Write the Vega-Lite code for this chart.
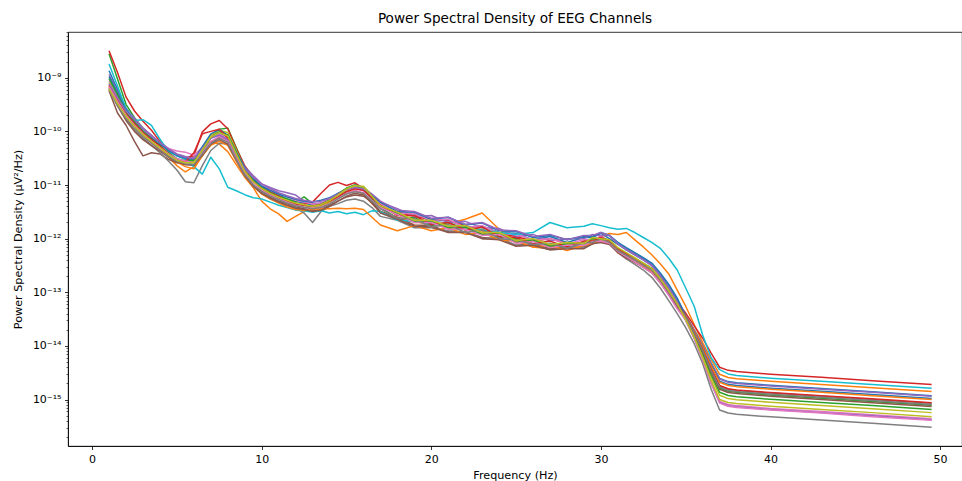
{
"$schema":"https://vega.github.io/schema/vega-lite/v6.json",
"width":894,"height":414,
"autosize":{"type":"none"},
"padding":{"left":68,"top":32,"right":0,"bottom":35},
"background":"white",
"title":{"text":"Power Spectral Density of EEG Channels","font":"DejaVu Sans","fontSize":13.6,"fontWeight":"normal","color":"#000000","anchor":"middle","offset":6},
"config":{"view":{"stroke":"#000000","strokeWidth":0.8},"axis":{"domainColor":"#000000","domainWidth":0.8,"tickColor":"#000000","tickWidth":0.8,"tickSize":3.5,"labelFont":"DejaVu Sans","labelFontSize":11,"labelColor":"#000000","labelPadding":3.5,"titleFont":"DejaVu Sans","titleFontSize":11.2,"titleFontWeight":"normal","titleColor":"#000000","grid":false}},
"data":{"values":[
{"c":1,"f":1,"p":1.35e-9},{"c":1,"f":1.5,"p":6.0e-10},{"c":1,"f":2,"p":2.7e-10},{"c":1,"f":2.5,"p":1.7e-10},{"c":1,"f":3,"p":1.1e-10},{"c":1,"f":3.5,"p":8.0e-11},{"c":1,"f":4,"p":6.0e-11},{"c":1,"f":4.5,"p":4.5e-11},{"c":1,"f":5,"p":3.5e-11},{"c":1,"f":5.5,"p":3.0e-11},{"c":1,"f":6,"p":2.9e-11},{"c":1,"f":6.5,"p":4.8e-11},{"c":1,"f":7,"p":8.0e-11},{"c":1,"f":7.5,"p":9.5e-11},{"c":1,"f":8,"p":7.5e-11},{"c":1,"f":8.5,"p":3.8e-11},{"c":1,"f":9,"p":2.0e-11},{"c":1,"f":9.5,"p":1.25e-11},{"c":1,"f":10,"p":9.5e-12},{"c":1,"f":10.5,"p":7.8e-12},{"c":1,"f":11,"p":6.5e-12},{"c":1,"f":11.5,"p":5.5e-12},{"c":1,"f":12,"p":5.0e-12},{"c":1,"f":12.5,"p":4.6e-12},{"c":1,"f":13,"p":4.2e-12},{"c":1,"f":13.5,"p":4.5e-12},{"c":1,"f":14,"p":5.3e-12},{"c":1,"f":14.5,"p":6.5e-12},{"c":1,"f":15,"p":8.5e-12},{"c":1,"f":15.5,"p":9.5e-12},{"c":1,"f":16,"p":8.8e-12},{"c":1,"f":16.5,"p":6.2e-12},{"c":1,"f":17,"p":4.6e-12},{"c":1,"f":18,"p":3.0e-12},{"c":1,"f":19,"p":2.9e-12},{"c":1,"f":20,"p":2.1e-12},{"c":1,"f":21,"p":2.2e-12},{"c":1,"f":22,"p":1.65e-12},{"c":1,"f":23,"p":1.7e-12},{"c":1,"f":24,"p":1.3e-12},{"c":1,"f":25,"p":1.25e-12},{"c":1,"f":26,"p":9.5e-13},{"c":1,"f":27,"p":1.1e-12},{"c":1,"f":28,"p":8.5e-13},{"c":1,"f":29,"p":1.05e-12},{"c":1,"f":29.5,"p":1.05e-12},{"c":1,"f":30,"p":1.25e-12},{"c":1,"f":30.5,"p":1.0e-12},{"c":1,"f":31,"p":7.8e-13},{"c":1,"f":31.5,"p":6.2e-13},{"c":1,"f":32,"p":5.0e-13},{"c":1,"f":32.5,"p":4.0e-13},{"c":1,"f":33,"p":3.2e-13},{"c":1,"f":33.5,"p":2.1e-13},{"c":1,"f":34,"p":1.3e-13},{"c":1,"f":34.5,"p":7.2e-14},{"c":1,"f":35,"p":3.7e-14},{"c":1,"f":35.5,"p":2.0e-14},{"c":1,"f":36,"p":1.04e-14},{"c":1,"f":36.5,"p":4.8e-15},{"c":1,"f":37,"p":2.48e-15},{"c":1,"f":37.5,"p":2.16e-15},{"c":1,"f":38,"p":2.05e-15},{"c":1,"f":40,"p":1.84e-15},{"c":1,"f":43,"p":1.6e-15},{"c":1,"f":46,"p":1.39e-15},{"c":1,"f":49.5,"p":1.18e-15},
{"c":2,"f":1,"p":7.4e-10},{"c":2,"f":1.5,"p":4.0e-10},{"c":2,"f":2,"p":2.0e-10},{"c":2,"f":2.5,"p":1.3e-10},{"c":2,"f":3,"p":9.0e-11},{"c":2,"f":3.5,"p":7.0e-11},{"c":2,"f":4,"p":5.0e-11},{"c":2,"f":4.5,"p":3.3e-11},{"c":2,"f":5,"p":2.3e-11},{"c":2,"f":5.5,"p":1.75e-11},{"c":2,"f":6,"p":2.2e-11},{"c":2,"f":6.5,"p":4.0e-11},{"c":2,"f":7,"p":6.5e-11},{"c":2,"f":7.5,"p":5.8e-11},{"c":2,"f":8,"p":4.2e-11},{"c":2,"f":8.5,"p":2.4e-11},{"c":2,"f":9,"p":1.4e-11},{"c":2,"f":9.5,"p":9.0e-12},{"c":2,"f":10,"p":5.0e-12},{"c":2,"f":10.5,"p":3.6e-12},{"c":2,"f":11,"p":2.9e-12},{"c":2,"f":11.5,"p":2.1e-12},{"c":2,"f":12,"p":2.6e-12},{"c":2,"f":12.5,"p":3.2e-12},{"c":2,"f":13,"p":3.5e-12},{"c":2,"f":13.5,"p":4.0e-12},{"c":2,"f":14,"p":5.2e-12},{"c":2,"f":14.5,"p":6.5e-12},{"c":2,"f":15,"p":7.2e-12},{"c":2,"f":15.5,"p":8.0e-12},{"c":2,"f":16,"p":6.8e-12},{"c":2,"f":16.5,"p":4.5e-12},{"c":2,"f":17,"p":3.2e-12},{"c":2,"f":18,"p":2.4e-12},{"c":2,"f":19,"p":2.1e-12},{"c":2,"f":20,"p":1.8e-12},{"c":2,"f":21,"p":1.9e-12},{"c":2,"f":22,"p":2.3e-12},{"c":2,"f":23,"p":3.0e-12},{"c":2,"f":24,"p":1.5e-12},{"c":2,"f":25,"p":9.0e-13},{"c":2,"f":26,"p":7.0e-13},{"c":2,"f":27,"p":6.5e-13},{"c":2,"f":28,"p":7.5e-13},{"c":2,"f":29,"p":8.5e-13},{"c":2,"f":29.5,"p":9.0e-13},{"c":2,"f":30,"p":1.1e-12},{"c":2,"f":30.5,"p":1.25e-12},{"c":2,"f":31,"p":1.2e-12},{"c":2,"f":31.5,"p":1.3e-12},{"c":2,"f":32,"p":9.5e-13},{"c":2,"f":32.5,"p":7.0e-13},{"c":2,"f":33,"p":5.0e-13},{"c":2,"f":33.5,"p":3.4e-13},{"c":2,"f":34,"p":2.2e-13},{"c":2,"f":34.5,"p":1.1e-13},{"c":2,"f":35,"p":5.5e-14},{"c":2,"f":35.5,"p":2.5e-14},{"c":2,"f":36,"p":1.15e-14},{"c":2,"f":36.5,"p":5.6e-15},{"c":2,"f":37,"p":2.96e-15},{"c":2,"f":37.5,"p":2.58e-15},{"c":2,"f":38,"p":2.45e-15},{"c":2,"f":40,"p":2.19e-15},{"c":2,"f":43,"p":1.91e-15},{"c":2,"f":46,"p":1.66e-15},{"c":2,"f":49.5,"p":1.41e-15},
{"c":3,"f":1,"p":2.8e-9},{"c":3,"f":1.5,"p":9.5e-10},{"c":3,"f":2,"p":3.2e-10},{"c":3,"f":2.5,"p":1.8e-10},{"c":3,"f":3,"p":1.15e-10},{"c":3,"f":3.5,"p":8.0e-11},{"c":3,"f":4,"p":5.5e-11},{"c":3,"f":4.5,"p":3.6e-11},{"c":3,"f":5,"p":2.8e-11},{"c":3,"f":5.5,"p":2.6e-11},{"c":3,"f":6,"p":2.7e-11},{"c":3,"f":6.5,"p":4.0e-11},{"c":3,"f":7,"p":8.0e-11},{"c":3,"f":7.5,"p":1.1e-10},{"c":3,"f":8,"p":1.15e-10},{"c":3,"f":8.5,"p":5.0e-11},{"c":3,"f":9,"p":2.2e-11},{"c":3,"f":9.5,"p":1.3e-11},{"c":3,"f":10,"p":8.8e-12},{"c":3,"f":10.5,"p":7.0e-12},{"c":3,"f":11,"p":6.2e-12},{"c":3,"f":11.5,"p":5.5e-12},{"c":3,"f":12,"p":4.8e-12},{"c":3,"f":12.5,"p":6.0e-12},{"c":3,"f":13,"p":4.5e-12},{"c":3,"f":13.5,"p":4.0e-12},{"c":3,"f":14,"p":4.6e-12},{"c":3,"f":14.5,"p":5.8e-12},{"c":3,"f":15,"p":7.5e-12},{"c":3,"f":15.5,"p":9.5e-12},{"c":3,"f":16,"p":9.0e-12},{"c":3,"f":16.5,"p":6.0e-12},{"c":3,"f":17,"p":3.8e-12},{"c":3,"f":18,"p":2.4e-12},{"c":3,"f":19,"p":2.5e-12},{"c":3,"f":20,"p":1.75e-12},{"c":3,"f":21,"p":2.0e-12},{"c":3,"f":22,"p":1.5e-12},{"c":3,"f":23,"p":1.5e-12},{"c":3,"f":24,"p":1.05e-12},{"c":3,"f":25,"p":1.0e-12},{"c":3,"f":26,"p":8.0e-13},{"c":3,"f":27,"p":8.0e-13},{"c":3,"f":28,"p":6.8e-13},{"c":3,"f":29,"p":8.5e-13},{"c":3,"f":29.5,"p":8.8e-13},{"c":3,"f":30,"p":1.05e-12},{"c":3,"f":30.5,"p":9.0e-13},{"c":3,"f":31,"p":6.5e-13},{"c":3,"f":31.5,"p":5.2e-13},{"c":3,"f":32,"p":4.3e-13},{"c":3,"f":32.5,"p":3.5e-13},{"c":3,"f":33,"p":2.8e-13},{"c":3,"f":33.5,"p":1.8e-13},{"c":3,"f":34,"p":1.1e-13},{"c":3,"f":34.5,"p":6.2e-14},{"c":3,"f":35,"p":3.4e-14},{"c":3,"f":35.5,"p":1.72e-14},{"c":3,"f":36,"p":8.1e-15},{"c":3,"f":36.5,"p":3.4e-15},{"c":3,"f":37,"p":1.64e-15},{"c":3,"f":37.5,"p":1.43e-15},{"c":3,"f":38,"p":1.36e-15},{"c":3,"f":40,"p":1.21e-15},{"c":3,"f":43,"p":1.06e-15},{"c":3,"f":46,"p":9.2e-16},{"c":3,"f":49.5,"p":7.8e-16},
{"c":4,"f":1,"p":3.2e-9},{"c":4,"f":1.5,"p":1.25e-9},{"c":4,"f":2,"p":4.4e-10},{"c":4,"f":2.5,"p":2.4e-10},{"c":4,"f":3,"p":1.55e-10},{"c":4,"f":3.5,"p":1.05e-10},{"c":4,"f":4,"p":6.5e-11},{"c":4,"f":4.5,"p":4.6e-11},{"c":4,"f":5,"p":3.6e-11},{"c":4,"f":5.5,"p":3.2e-11},{"c":4,"f":6,"p":3.5e-11},{"c":4,"f":6.5,"p":9.8e-11},{"c":4,"f":7,"p":1.38e-10},{"c":4,"f":7.5,"p":1.6e-10},{"c":4,"f":8,"p":1.12e-10},{"c":4,"f":8.5,"p":4.8e-11},{"c":4,"f":9,"p":2.3e-11},{"c":4,"f":9.5,"p":1.4e-11},{"c":4,"f":10,"p":9.5e-12},{"c":4,"f":10.5,"p":7.5e-12},{"c":4,"f":11,"p":6.3e-12},{"c":4,"f":11.5,"p":5.0e-12},{"c":4,"f":12,"p":4.5e-12},{"c":4,"f":12.5,"p":4.4e-12},{"c":4,"f":13,"p":4.8e-12},{"c":4,"f":13.5,"p":7.0e-12},{"c":4,"f":14,"p":1.0e-11},{"c":4,"f":14.5,"p":1.12e-11},{"c":4,"f":15,"p":9.8e-12},{"c":4,"f":15.5,"p":1.1e-11},{"c":4,"f":16,"p":8.6e-12},{"c":4,"f":16.5,"p":5.9e-12},{"c":4,"f":17,"p":4.0e-12},{"c":4,"f":18,"p":3.1e-12},{"c":4,"f":19,"p":2.6e-12},{"c":4,"f":20,"p":2.3e-12},{"c":4,"f":21,"p":2.2e-12},{"c":4,"f":22,"p":1.75e-12},{"c":4,"f":23,"p":1.4e-12},{"c":4,"f":24,"p":1.25e-12},{"c":4,"f":25,"p":1.1e-12},{"c":4,"f":26,"p":9.0e-13},{"c":4,"f":27,"p":1.0e-12},{"c":4,"f":28,"p":8.0e-13},{"c":4,"f":29,"p":8.5e-13},{"c":4,"f":29.5,"p":9.5e-13},{"c":4,"f":30,"p":1.1e-12},{"c":4,"f":30.5,"p":9.0e-13},{"c":4,"f":31,"p":6.5e-13},{"c":4,"f":31.5,"p":5.0e-13},{"c":4,"f":32,"p":4.2e-13},{"c":4,"f":32.5,"p":3.4e-13},{"c":4,"f":33,"p":2.7e-13},{"c":4,"f":33.5,"p":1.8e-13},{"c":4,"f":34,"p":1.1e-13},{"c":4,"f":34.5,"p":6.4e-14},{"c":4,"f":35,"p":4.1e-14},{"c":4,"f":35.5,"p":2.36e-14},{"c":4,"f":36,"p":1.39e-14},{"c":4,"f":36.5,"p":7.3e-15},{"c":4,"f":37,"p":4.0e-15},{"c":4,"f":37.5,"p":3.5e-15},{"c":4,"f":38,"p":3.32e-15},{"c":4,"f":40,"p":2.97e-15},{"c":4,"f":43,"p":2.59e-15},{"c":4,"f":46,"p":2.25e-15},{"c":4,"f":49.5,"p":1.91e-15},
{"c":5,"f":1,"p":1.15e-9},{"c":5,"f":1.5,"p":5.5e-10},{"c":5,"f":2,"p":2.6e-10},{"c":5,"f":2.5,"p":1.75e-10},{"c":5,"f":3,"p":1.15e-10},{"c":5,"f":3.5,"p":8.5e-11},{"c":5,"f":4,"p":6.2e-11},{"c":5,"f":4.5,"p":4.8e-11},{"c":5,"f":5,"p":3.8e-11},{"c":5,"f":5.5,"p":3.4e-11},{"c":5,"f":6,"p":3.2e-11},{"c":5,"f":6.5,"p":4.6e-11},{"c":5,"f":7,"p":7.5e-11},{"c":5,"f":7.5,"p":8.5e-11},{"c":5,"f":8,"p":7.0e-11},{"c":5,"f":8.5,"p":4.0e-11},{"c":5,"f":9,"p":2.2e-11},{"c":5,"f":9.5,"p":1.5e-11},{"c":5,"f":10,"p":1.05e-11},{"c":5,"f":10.5,"p":9.0e-12},{"c":5,"f":11,"p":7.8e-12},{"c":5,"f":11.5,"p":7.2e-12},{"c":5,"f":12,"p":6.5e-12},{"c":5,"f":12.5,"p":5.0e-12},{"c":5,"f":13,"p":4.5e-12},{"c":5,"f":13.5,"p":4.6e-12},{"c":5,"f":14,"p":5.5e-12},{"c":5,"f":14.5,"p":7.0e-12},{"c":5,"f":15,"p":8.0e-12},{"c":5,"f":15.5,"p":8.8e-12},{"c":5,"f":16,"p":8.2e-12},{"c":5,"f":16.5,"p":6.5e-12},{"c":5,"f":17,"p":4.8e-12},{"c":5,"f":18,"p":3.6e-12},{"c":5,"f":19,"p":2.6e-12},{"c":5,"f":20,"p":2.7e-12},{"c":5,"f":21,"p":2.0e-12},{"c":5,"f":22,"p":2.1e-12},{"c":5,"f":23,"p":1.6e-12},{"c":5,"f":24,"p":1.55e-12},{"c":5,"f":25,"p":1.1e-12},{"c":5,"f":26,"p":1.2e-12},{"c":5,"f":27,"p":9.0e-13},{"c":5,"f":28,"p":1.0e-12},{"c":5,"f":29,"p":1.0e-12},{"c":5,"f":29.5,"p":1.2e-12},{"c":5,"f":30,"p":1.15e-12},{"c":5,"f":30.5,"p":1.15e-12},{"c":5,"f":31,"p":8.0e-13},{"c":5,"f":31.5,"p":6.5e-13},{"c":5,"f":32,"p":5.2e-13},{"c":5,"f":32.5,"p":4.2e-13},{"c":5,"f":33,"p":3.3e-13},{"c":5,"f":33.5,"p":2.2e-13},{"c":5,"f":34,"p":1.35e-13},{"c":5,"f":34.5,"p":7.5e-14},{"c":5,"f":35,"p":3.7e-14},{"c":5,"f":35.5,"p":1.97e-14},{"c":5,"f":36,"p":1.02e-14},{"c":5,"f":36.5,"p":4.7e-15},{"c":5,"f":37,"p":2.42e-15},{"c":5,"f":37.5,"p":2.1e-15},{"c":5,"f":38,"p":2.0e-15},{"c":5,"f":40,"p":1.79e-15},{"c":5,"f":43,"p":1.56e-15},{"c":5,"f":46,"p":1.36e-15},{"c":5,"f":49.5,"p":1.15e-15},
{"c":6,"f":1,"p":5.7e-10},{"c":6,"f":1.5,"p":2.2e-10},{"c":6,"f":2,"p":1.3e-10},{"c":6,"f":2.5,"p":6.5e-11},{"c":6,"f":3,"p":3.5e-11},{"c":6,"f":3.5,"p":4.0e-11},{"c":6,"f":4,"p":3.8e-11},{"c":6,"f":4.5,"p":3.0e-11},{"c":6,"f":5,"p":2.6e-11},{"c":6,"f":5.5,"p":2.4e-11},{"c":6,"f":6,"p":2.3e-11},{"c":6,"f":6.5,"p":3.5e-11},{"c":6,"f":7,"p":6.0e-11},{"c":6,"f":7.5,"p":8.0e-11},{"c":6,"f":8,"p":6.8e-11},{"c":6,"f":8.5,"p":3.3e-11},{"c":6,"f":9,"p":1.6e-11},{"c":6,"f":9.5,"p":1.0e-11},{"c":6,"f":10,"p":7.5e-12},{"c":6,"f":10.5,"p":6.0e-12},{"c":6,"f":11,"p":5.0e-12},{"c":6,"f":11.5,"p":4.5e-12},{"c":6,"f":12,"p":3.9e-12},{"c":6,"f":12.5,"p":3.6e-12},{"c":6,"f":13,"p":3.3e-12},{"c":6,"f":13.5,"p":3.5e-12},{"c":6,"f":14,"p":4.2e-12},{"c":6,"f":14.5,"p":5.0e-12},{"c":6,"f":15,"p":6.0e-12},{"c":6,"f":15.5,"p":6.5e-12},{"c":6,"f":16,"p":6.2e-12},{"c":6,"f":16.5,"p":4.8e-12},{"c":6,"f":17,"p":3.2e-12},{"c":6,"f":18,"p":2.5e-12},{"c":6,"f":19,"p":1.8e-12},{"c":6,"f":20,"p":1.75e-12},{"c":6,"f":21,"p":1.35e-12},{"c":6,"f":22,"p":1.35e-12},{"c":6,"f":23,"p":1.05e-12},{"c":6,"f":24,"p":1.0e-12},{"c":6,"f":25,"p":7.5e-13},{"c":6,"f":26,"p":8.0e-13},{"c":6,"f":27,"p":6.5e-13},{"c":6,"f":28,"p":7.0e-13},{"c":6,"f":29,"p":7.0e-13},{"c":6,"f":29.5,"p":8.5e-13},{"c":6,"f":30,"p":9.5e-13},{"c":6,"f":30.5,"p":8.5e-13},{"c":6,"f":31,"p":6.0e-13},{"c":6,"f":31.5,"p":4.8e-13},{"c":6,"f":32,"p":3.9e-13},{"c":6,"f":32.5,"p":3.1e-13},{"c":6,"f":33,"p":2.5e-13},{"c":6,"f":33.5,"p":1.65e-13},{"c":6,"f":34,"p":1.0e-13},{"c":6,"f":34.5,"p":5.8e-14},{"c":6,"f":35,"p":3.5e-14},{"c":6,"f":35.5,"p":1.77e-14},{"c":6,"f":36,"p":8.5e-15},{"c":6,"f":36.5,"p":3.66e-15},{"c":6,"f":37,"p":1.79e-15},{"c":6,"f":37.5,"p":1.56e-15},{"c":6,"f":38,"p":1.48e-15},{"c":6,"f":40,"p":1.32e-15},{"c":6,"f":43,"p":1.15e-15},{"c":6,"f":46,"p":1.0e-15},{"c":6,"f":49.5,"p":8.5e-16},
{"c":7,"f":1,"p":8.8e-10},{"c":7,"f":1.5,"p":4.5e-10},{"c":7,"f":2,"p":2.4e-10},{"c":7,"f":2.5,"p":1.6e-10},{"c":7,"f":3,"p":1.1e-10},{"c":7,"f":3.5,"p":8.0e-11},{"c":7,"f":4,"p":6.0e-11},{"c":7,"f":4.5,"p":4.8e-11},{"c":7,"f":5,"p":4.3e-11},{"c":7,"f":5.5,"p":4.1e-11},{"c":7,"f":6,"p":3.6e-11},{"c":7,"f":6.5,"p":5.0e-11},{"c":7,"f":7,"p":8.0e-11},{"c":7,"f":7.5,"p":9.0e-11},{"c":7,"f":8,"p":7.5e-11},{"c":7,"f":8.5,"p":3.8e-11},{"c":7,"f":9,"p":2.0e-11},{"c":7,"f":9.5,"p":1.35e-11},{"c":7,"f":10,"p":9.8e-12},{"c":7,"f":10.5,"p":8.0e-12},{"c":7,"f":11,"p":6.8e-12},{"c":7,"f":11.5,"p":6.0e-12},{"c":7,"f":12,"p":5.2e-12},{"c":7,"f":12.5,"p":4.8e-12},{"c":7,"f":13,"p":4.4e-12},{"c":7,"f":13.5,"p":4.5e-12},{"c":7,"f":14,"p":5.5e-12},{"c":7,"f":14.5,"p":6.6e-12},{"c":7,"f":15,"p":8.0e-12},{"c":7,"f":15.5,"p":8.5e-12},{"c":7,"f":16,"p":7.8e-12},{"c":7,"f":16.5,"p":5.5e-12},{"c":7,"f":17,"p":4.5e-12},{"c":7,"f":18,"p":3.0e-12},{"c":7,"f":19,"p":2.9e-12},{"c":7,"f":20,"p":2.2e-12},{"c":7,"f":21,"p":2.3e-12},{"c":7,"f":22,"p":1.6e-12},{"c":7,"f":23,"p":1.75e-12},{"c":7,"f":24,"p":1.25e-12},{"c":7,"f":25,"p":1.2e-12},{"c":7,"f":26,"p":9.5e-13},{"c":7,"f":27,"p":1.0e-12},{"c":7,"f":28,"p":8.0e-13},{"c":7,"f":29,"p":9.5e-13},{"c":7,"f":29.5,"p":9.5e-13},{"c":7,"f":30,"p":1.1e-12},{"c":7,"f":30.5,"p":8.5e-13},{"c":7,"f":31,"p":5.5e-13},{"c":7,"f":31.5,"p":4.2e-13},{"c":7,"f":32,"p":3.9e-13},{"c":7,"f":32.5,"p":3.0e-13},{"c":7,"f":33,"p":2.4e-13},{"c":7,"f":33.5,"p":1.55e-13},{"c":7,"f":34,"p":9.0e-14},{"c":7,"f":34.5,"p":5.0e-14},{"c":7,"f":35,"p":3.1e-14},{"c":7,"f":35.5,"p":1.41e-14},{"c":7,"f":36,"p":5.7e-15},{"c":7,"f":36.5,"p":2.1e-15},{"c":7,"f":37,"p":9.2e-16},{"c":7,"f":37.5,"p":8.1e-16},{"c":7,"f":38,"p":7.7e-16},{"c":7,"f":40,"p":6.8e-16},{"c":7,"f":43,"p":6.0e-16},{"c":7,"f":46,"p":5.2e-16},{"c":7,"f":49.5,"p":4.4e-16},
{"c":8,"f":1,"p":6.5e-10},{"c":8,"f":1.5,"p":3.2e-10},{"c":8,"f":2,"p":1.7e-10},{"c":8,"f":2.5,"p":1.05e-10},{"c":8,"f":3,"p":7.5e-11},{"c":8,"f":3.5,"p":5.5e-11},{"c":8,"f":4,"p":4.0e-11},{"c":8,"f":4.5,"p":2.8e-11},{"c":8,"f":5,"p":1.9e-11},{"c":8,"f":5.5,"p":1.15e-11},{"c":8,"f":6,"p":1.1e-11},{"c":8,"f":6.5,"p":2.3e-11},{"c":8,"f":7,"p":4.4e-11},{"c":8,"f":7.5,"p":6.0e-11},{"c":8,"f":8,"p":5.8e-11},{"c":8,"f":8.5,"p":3.0e-11},{"c":8,"f":9,"p":1.5e-11},{"c":8,"f":9.5,"p":1.0e-11},{"c":8,"f":10,"p":7.0e-12},{"c":8,"f":10.5,"p":5.5e-12},{"c":8,"f":11,"p":4.8e-12},{"c":8,"f":11.5,"p":4.2e-12},{"c":8,"f":12,"p":3.8e-12},{"c":8,"f":12.5,"p":3.0e-12},{"c":8,"f":13,"p":2.0e-12},{"c":8,"f":13.5,"p":3.2e-12},{"c":8,"f":14,"p":4.0e-12},{"c":8,"f":14.5,"p":4.5e-12},{"c":8,"f":15,"p":5.2e-12},{"c":8,"f":15.5,"p":5.5e-12},{"c":8,"f":16,"p":5.0e-12},{"c":8,"f":16.5,"p":3.8e-12},{"c":8,"f":17,"p":2.6e-12},{"c":8,"f":18,"p":2.2e-12},{"c":8,"f":19,"p":1.6e-12},{"c":8,"f":20,"p":1.6e-12},{"c":8,"f":21,"p":1.4e-12},{"c":8,"f":22,"p":1.35e-12},{"c":8,"f":23,"p":1.0e-12},{"c":8,"f":24,"p":1.05e-12},{"c":8,"f":25,"p":7.5e-13},{"c":8,"f":26,"p":7.5e-13},{"c":8,"f":27,"p":6.2e-13},{"c":8,"f":28,"p":6.5e-13},{"c":8,"f":29,"p":6.8e-13},{"c":8,"f":29.5,"p":8.0e-13},{"c":8,"f":30,"p":9.0e-13},{"c":8,"f":30.5,"p":8.0e-13},{"c":8,"f":31,"p":5.5e-13},{"c":8,"f":31.5,"p":4.2e-13},{"c":8,"f":32,"p":3.3e-13},{"c":8,"f":32.5,"p":2.6e-13},{"c":8,"f":33,"p":1.9e-13},{"c":8,"f":33.5,"p":1.2e-13},{"c":8,"f":34,"p":7.0e-14},{"c":8,"f":34.5,"p":4.0e-14},{"c":8,"f":35,"p":2.2e-14},{"c":8,"f":35.5,"p":1.1e-14},{"c":8,"f":36,"p":4.7e-15},{"c":8,"f":36.5,"p":1.55e-15},{"c":8,"f":37,"p":6.4e-16},{"c":8,"f":37.5,"p":5.6e-16},{"c":8,"f":38,"p":5.3e-16},{"c":8,"f":40,"p":4.75e-16},{"c":8,"f":43,"p":4.14e-16},{"c":8,"f":46,"p":3.6e-16},{"c":8,"f":49.5,"p":3.05e-16},
{"c":9,"f":1,"p":8.1e-10},{"c":9,"f":1.5,"p":4.0e-10},{"c":9,"f":2,"p":2.2e-10},{"c":9,"f":2.5,"p":1.4e-10},{"c":9,"f":3,"p":9.5e-11},{"c":9,"f":3.5,"p":7.0e-11},{"c":9,"f":4,"p":5.2e-11},{"c":9,"f":4.5,"p":3.8e-11},{"c":9,"f":5,"p":3.0e-11},{"c":9,"f":5.5,"p":2.8e-11},{"c":9,"f":6,"p":2.7e-11},{"c":9,"f":6.5,"p":4.5e-11},{"c":9,"f":7,"p":8.5e-11},{"c":9,"f":7.5,"p":1.05e-10},{"c":9,"f":8,"p":9.5e-11},{"c":9,"f":8.5,"p":4.5e-11},{"c":9,"f":9,"p":2.0e-11},{"c":9,"f":9.5,"p":1.2e-11},{"c":9,"f":10,"p":8.5e-12},{"c":9,"f":10.5,"p":6.8e-12},{"c":9,"f":11,"p":5.6e-12},{"c":9,"f":11.5,"p":5.0e-12},{"c":9,"f":12,"p":4.4e-12},{"c":9,"f":12.5,"p":4.1e-12},{"c":9,"f":13,"p":3.8e-12},{"c":9,"f":13.5,"p":4.0e-12},{"c":9,"f":14,"p":4.8e-12},{"c":9,"f":14.5,"p":6.0e-12},{"c":9,"f":15,"p":8.0e-12},{"c":9,"f":15.5,"p":9.5e-12},{"c":9,"f":16,"p":9.5e-12},{"c":9,"f":16.5,"p":6.5e-12},{"c":9,"f":17,"p":4.0e-12},{"c":9,"f":18,"p":2.8e-12},{"c":9,"f":19,"p":2.0e-12},{"c":9,"f":20,"p":2.0e-12},{"c":9,"f":21,"p":1.6e-12},{"c":9,"f":22,"p":1.55e-12},{"c":9,"f":23,"p":1.2e-12},{"c":9,"f":24,"p":1.2e-12},{"c":9,"f":25,"p":8.5e-13},{"c":9,"f":26,"p":9.0e-13},{"c":9,"f":27,"p":7.0e-13},{"c":9,"f":28,"p":7.5e-13},{"c":9,"f":29,"p":7.5e-13},{"c":9,"f":29.5,"p":9.5e-13},{"c":9,"f":30,"p":9.5e-13},{"c":9,"f":30.5,"p":9.0e-13},{"c":9,"f":31,"p":6.2e-13},{"c":9,"f":31.5,"p":5.0e-13},{"c":9,"f":32,"p":4.0e-13},{"c":9,"f":32.5,"p":3.2e-13},{"c":9,"f":33,"p":2.6e-13},{"c":9,"f":33.5,"p":1.7e-13},{"c":9,"f":34,"p":1.02e-13},{"c":9,"f":34.5,"p":5.8e-14},{"c":9,"f":35,"p":3.2e-14},{"c":9,"f":35.5,"p":1.54e-14},{"c":9,"f":36,"p":6.7e-15},{"c":9,"f":36.5,"p":2.6e-15},{"c":9,"f":37,"p":1.2e-15},{"c":9,"f":37.5,"p":1.04e-15},{"c":9,"f":38,"p":9.9e-16},{"c":9,"f":40,"p":8.9e-16},{"c":9,"f":43,"p":7.7e-16},{"c":9,"f":46,"p":6.7e-16},{"c":9,"f":49.5,"p":5.7e-16},
{"c":10,"f":1,"p":1.8e-9},{"c":10,"f":1.5,"p":7.0e-10},{"c":10,"f":2,"p":2.6e-10},{"c":10,"f":2.5,"p":1.6e-10},{"c":10,"f":3,"p":1.65e-10},{"c":10,"f":3.5,"p":1.3e-10},{"c":10,"f":4,"p":7.2e-11},{"c":10,"f":4.5,"p":4.2e-11},{"c":10,"f":5,"p":3.5e-11},{"c":10,"f":5.5,"p":3.1e-11},{"c":10,"f":6,"p":2.2e-11},{"c":10,"f":6.5,"p":1.6e-11},{"c":10,"f":7,"p":3.3e-11},{"c":10,"f":7.5,"p":2.0e-11},{"c":10,"f":8,"p":9.1e-12},{"c":10,"f":8.5,"p":7.8e-12},{"c":10,"f":9,"p":6.6e-12},{"c":10,"f":9.5,"p":5.8e-12},{"c":10,"f":10,"p":5.5e-12},{"c":10,"f":10.5,"p":4.8e-12},{"c":10,"f":11,"p":4.2e-12},{"c":10,"f":11.5,"p":3.8e-12},{"c":10,"f":12,"p":3.4e-12},{"c":10,"f":12.5,"p":3.3e-12},{"c":10,"f":13,"p":3.1e-12},{"c":10,"f":13.5,"p":3.3e-12},{"c":10,"f":14,"p":3.0e-12},{"c":10,"f":14.5,"p":3.2e-12},{"c":10,"f":15,"p":2.9e-12},{"c":10,"f":15.5,"p":3.1e-12},{"c":10,"f":16,"p":2.8e-12},{"c":10,"f":16.5,"p":3.3e-12},{"c":10,"f":17,"p":3.2e-12},{"c":10,"f":18,"p":2.2e-12},{"c":10,"f":19,"p":2.1e-12},{"c":10,"f":20,"p":1.9e-12},{"c":10,"f":21,"p":1.7e-12},{"c":10,"f":22,"p":1.5e-12},{"c":10,"f":23,"p":1.45e-12},{"c":10,"f":24,"p":1.3e-12},{"c":10,"f":25,"p":1.2e-12},{"c":10,"f":26,"p":1.3e-12},{"c":10,"f":27,"p":2.0e-12},{"c":10,"f":28,"p":1.6e-12},{"c":10,"f":29,"p":1.7e-12},{"c":10,"f":29.5,"p":1.9e-12},{"c":10,"f":30,"p":1.75e-12},{"c":10,"f":30.5,"p":1.6e-12},{"c":10,"f":31,"p":1.5e-12},{"c":10,"f":31.5,"p":1.55e-12},{"c":10,"f":32,"p":1.3e-12},{"c":10,"f":32.5,"p":1.05e-12},{"c":10,"f":33,"p":8.5e-13},{"c":10,"f":33.5,"p":6.6e-13},{"c":10,"f":34,"p":4.3e-13},{"c":10,"f":34.5,"p":2.6e-13},{"c":10,"f":35,"p":1.2e-13},{"c":10,"f":35.5,"p":5.5e-14},{"c":10,"f":36,"p":1.6e-14},{"c":10,"f":36.5,"p":6.0e-15},{"c":10,"f":37,"p":3.6e-15},{"c":10,"f":37.5,"p":3.0e-15},{"c":10,"f":38,"p":2.8e-15},{"c":10,"f":40,"p":2.5e-15},{"c":10,"f":43,"p":2.2e-15},{"c":10,"f":46,"p":1.9e-15},{"c":10,"f":49.5,"p":1.62e-15},
{"c":11,"f":1,"p":1.05e-9},{"c":11,"f":1.5,"p":5.2e-10},{"c":11,"f":2,"p":2.5e-10},{"c":11,"f":2.5,"p":1.55e-10},{"c":11,"f":3,"p":1.0e-10},{"c":11,"f":3.5,"p":7.5e-11},{"c":11,"f":4,"p":5.8e-11},{"c":11,"f":4.5,"p":4.4e-11},{"c":11,"f":5,"p":3.6e-11},{"c":11,"f":5.5,"p":3.2e-11},{"c":11,"f":6,"p":3.0e-11},{"c":11,"f":6.5,"p":5.2e-11},{"c":11,"f":7,"p":9.0e-11},{"c":11,"f":7.5,"p":1.08e-10},{"c":11,"f":8,"p":8.5e-11},{"c":11,"f":8.5,"p":4.2e-11},{"c":11,"f":9,"p":2.1e-11},{"c":11,"f":9.5,"p":1.3e-11},{"c":11,"f":10,"p":9.5e-12},{"c":11,"f":10.5,"p":8.0e-12},{"c":11,"f":11,"p":6.8e-12},{"c":11,"f":11.5,"p":6.0e-12},{"c":11,"f":12,"p":5.4e-12},{"c":11,"f":12.5,"p":5.0e-12},{"c":11,"f":13,"p":4.8e-12},{"c":11,"f":13.5,"p":5.2e-12},{"c":11,"f":14,"p":5.8e-12},{"c":11,"f":14.5,"p":7.0e-12},{"c":11,"f":15,"p":8.5e-12},{"c":11,"f":15.5,"p":1.0e-11},{"c":11,"f":16,"p":9.0e-12},{"c":11,"f":16.5,"p":6.5e-12},{"c":11,"f":17,"p":4.8e-12},{"c":11,"f":18,"p":3.2e-12},{"c":11,"f":19,"p":3.1e-12},{"c":11,"f":20,"p":2.3e-12},{"c":11,"f":21,"p":2.5e-12},{"c":11,"f":22,"p":1.8e-12},{"c":11,"f":23,"p":1.95e-12},{"c":11,"f":24,"p":1.4e-12},{"c":11,"f":25,"p":1.35e-12},{"c":11,"f":26,"p":1.05e-12},{"c":11,"f":27,"p":1.15e-12},{"c":11,"f":28,"p":9.5e-13},{"c":11,"f":29,"p":1.1e-12},{"c":11,"f":29.5,"p":1.1e-12},{"c":11,"f":30,"p":1.3e-12},{"c":11,"f":30.5,"p":1.15e-12},{"c":11,"f":31,"p":8.5e-13},{"c":11,"f":31.5,"p":6.8e-13},{"c":11,"f":32,"p":5.5e-13},{"c":11,"f":32.5,"p":4.4e-13},{"c":11,"f":33,"p":3.5e-13},{"c":11,"f":33.5,"p":2.3e-13},{"c":11,"f":34,"p":1.4e-13},{"c":11,"f":34.5,"p":7.8e-14},{"c":11,"f":35,"p":3.6e-14},{"c":11,"f":35.5,"p":1.91e-14},{"c":11,"f":36,"p":9.7e-15},{"c":11,"f":36.5,"p":4.4e-15},{"c":11,"f":37,"p":2.2e-15},{"c":11,"f":37.5,"p":1.92e-15},{"c":11,"f":38,"p":1.83e-15},{"c":11,"f":40,"p":1.63e-15},{"c":11,"f":43,"p":1.42e-15},{"c":11,"f":46,"p":1.24e-15},{"c":11,"f":49.5,"p":1.05e-15},
{"c":12,"f":1,"p":6.8e-10},{"c":12,"f":1.5,"p":3.5e-10},{"c":12,"f":2,"p":1.9e-10},{"c":12,"f":2.5,"p":1.25e-10},{"c":12,"f":3,"p":8.5e-11},{"c":12,"f":3.5,"p":6.2e-11},{"c":12,"f":4,"p":4.6e-11},{"c":12,"f":4.5,"p":3.4e-11},{"c":12,"f":5,"p":2.7e-11},{"c":12,"f":5.5,"p":2.2e-11},{"c":12,"f":6,"p":2.0e-11},{"c":12,"f":6.5,"p":3.5e-11},{"c":12,"f":7,"p":5.5e-11},{"c":12,"f":7.5,"p":6.5e-11},{"c":12,"f":8,"p":5.5e-11},{"c":12,"f":8.5,"p":2.8e-11},{"c":12,"f":9,"p":1.5e-11},{"c":12,"f":9.5,"p":9.5e-12},{"c":12,"f":10,"p":6.8e-12},{"c":12,"f":10.5,"p":5.5e-12},{"c":12,"f":11,"p":4.6e-12},{"c":12,"f":11.5,"p":3.9e-12},{"c":12,"f":12,"p":3.5e-12},{"c":12,"f":12.5,"p":3.4e-12},{"c":12,"f":13,"p":3.5e-12},{"c":12,"f":13.5,"p":3.6e-12},{"c":12,"f":14,"p":3.6e-12},{"c":12,"f":14.5,"p":3.7e-12},{"c":12,"f":15,"p":3.6e-12},{"c":12,"f":15.5,"p":3.7e-12},{"c":12,"f":16,"p":3.5e-12},{"c":12,"f":16.5,"p":2.5e-12},{"c":12,"f":17,"p":1.8e-12},{"c":12,"f":18,"p":1.4e-12},{"c":12,"f":19,"p":1.75e-12},{"c":12,"f":20,"p":1.4e-12},{"c":12,"f":21,"p":1.6e-12},{"c":12,"f":22,"p":1.2e-12},{"c":12,"f":23,"p":1.3e-12},{"c":12,"f":24,"p":9.5e-13},{"c":12,"f":25,"p":9.0e-13},{"c":12,"f":26,"p":7.0e-13},{"c":12,"f":27,"p":7.5e-13},{"c":12,"f":28,"p":6.0e-13},{"c":12,"f":29,"p":7.5e-13},{"c":12,"f":29.5,"p":8.0e-13},{"c":12,"f":30,"p":9.0e-13},{"c":12,"f":30.5,"p":8.0e-13},{"c":12,"f":31,"p":5.5e-13},{"c":12,"f":31.5,"p":4.5e-13},{"c":12,"f":32,"p":3.7e-13},{"c":12,"f":32.5,"p":3.0e-13},{"c":12,"f":33,"p":2.4e-13},{"c":12,"f":33.5,"p":1.6e-13},{"c":12,"f":34,"p":9.5e-14},{"c":12,"f":34.5,"p":5.5e-14},{"c":12,"f":35,"p":3.6e-14},{"c":12,"f":35.5,"p":1.88e-14},{"c":12,"f":36,"p":9.4e-15},{"c":12,"f":36.5,"p":4.2e-15},{"c":12,"f":37,"p":2.1e-15},{"c":12,"f":37.5,"p":1.83e-15},{"c":12,"f":38,"p":1.74e-15},{"c":12,"f":40,"p":1.56e-15},{"c":12,"f":43,"p":1.36e-15},{"c":12,"f":46,"p":1.18e-15},{"c":12,"f":49.5,"p":1.0e-15},
{"c":13,"f":1,"p":9.6e-10},{"c":13,"f":1.5,"p":4.8e-10},{"c":13,"f":2,"p":2.3e-10},{"c":13,"f":2.5,"p":1.5e-10},{"c":13,"f":3,"p":1.0e-10},{"c":13,"f":3.5,"p":7.3e-11},{"c":13,"f":4,"p":5.4e-11},{"c":13,"f":4.5,"p":4.0e-11},{"c":13,"f":5,"p":3.1e-11},{"c":13,"f":5.5,"p":2.8e-11},{"c":13,"f":6,"p":2.9e-11},{"c":13,"f":6.5,"p":4.2e-11},{"c":13,"f":7,"p":7.6e-11},{"c":13,"f":7.5,"p":9.8e-11},{"c":13,"f":8,"p":8.5e-11},{"c":13,"f":8.5,"p":4.0e-11},{"c":13,"f":9,"p":1.9e-11},{"c":13,"f":9.5,"p":1.2e-11},{"c":13,"f":10,"p":8.8e-12},{"c":13,"f":10.5,"p":7.2e-12},{"c":13,"f":11,"p":6.0e-12},{"c":13,"f":11.5,"p":5.3e-12},{"c":13,"f":12,"p":4.6e-12},{"c":13,"f":12.5,"p":4.2e-12},{"c":13,"f":13,"p":4.0e-12},{"c":13,"f":13.5,"p":4.4e-12},{"c":13,"f":14,"p":5.2e-12},{"c":13,"f":14.5,"p":6.8e-12},{"c":13,"f":15,"p":8.8e-12},{"c":13,"f":15.5,"p":1.0e-11},{"c":13,"f":16,"p":8.5e-12},{"c":13,"f":16.5,"p":5.5e-12},{"c":13,"f":17,"p":3.9e-12},{"c":13,"f":18,"p":3.0e-12},{"c":13,"f":19,"p":2.1e-12},{"c":13,"f":20,"p":2.1e-12},{"c":13,"f":21,"p":1.6e-12},{"c":13,"f":22,"p":1.65e-12},{"c":13,"f":23,"p":1.2e-12},{"c":13,"f":24,"p":1.25e-12},{"c":13,"f":25,"p":8.5e-13},{"c":13,"f":26,"p":9.5e-13},{"c":13,"f":27,"p":7.2e-13},{"c":13,"f":28,"p":8.0e-13},{"c":13,"f":29,"p":8.0e-13},{"c":13,"f":29.5,"p":1.0e-12},{"c":13,"f":30,"p":1.0e-12},{"c":13,"f":30.5,"p":9.5e-13},{"c":13,"f":31,"p":6.5e-13},{"c":13,"f":31.5,"p":5.2e-13},{"c":13,"f":32,"p":4.2e-13},{"c":13,"f":32.5,"p":3.4e-13},{"c":13,"f":33,"p":2.7e-13},{"c":13,"f":33.5,"p":1.75e-13},{"c":13,"f":34,"p":1.05e-13},{"c":13,"f":34.5,"p":6.0e-14},{"c":13,"f":35,"p":3.3e-14},{"c":13,"f":35.5,"p":1.62e-14},{"c":13,"f":36,"p":7.3e-15},{"c":13,"f":36.5,"p":2.9e-15},{"c":13,"f":37,"p":1.37e-15},{"c":13,"f":37.5,"p":1.19e-15},{"c":13,"f":38,"p":1.13e-15},{"c":13,"f":40,"p":1.01e-15},{"c":13,"f":43,"p":8.8e-16},{"c":13,"f":46,"p":7.7e-16},{"c":13,"f":49.5,"p":6.5e-16},
{"c":14,"f":1,"p":7.1e-10},{"c":14,"f":1.5,"p":3.8e-10},{"c":14,"f":2,"p":2.1e-10},{"c":14,"f":2.5,"p":1.4e-10},{"c":14,"f":3,"p":9.5e-11},{"c":14,"f":3.5,"p":7.0e-11},{"c":14,"f":4,"p":5.3e-11},{"c":14,"f":4.5,"p":3.9e-11},{"c":14,"f":5,"p":3.0e-11},{"c":14,"f":5.5,"p":2.7e-11},{"c":14,"f":6,"p":4.0e-11},{"c":14,"f":6.5,"p":9.0e-11},{"c":14,"f":7,"p":1.0e-10},{"c":14,"f":7.5,"p":1.1e-10},{"c":14,"f":8,"p":7.5e-11},{"c":14,"f":8.5,"p":3.5e-11},{"c":14,"f":9,"p":1.8e-11},{"c":14,"f":9.5,"p":1.15e-11},{"c":14,"f":10,"p":8.5e-12},{"c":14,"f":10.5,"p":6.8e-12},{"c":14,"f":11,"p":5.8e-12},{"c":14,"f":11.5,"p":5.0e-12},{"c":14,"f":12,"p":4.4e-12},{"c":14,"f":12.5,"p":4.2e-12},{"c":14,"f":13,"p":4.0e-12},{"c":14,"f":13.5,"p":4.3e-12},{"c":14,"f":14,"p":5.0e-12},{"c":14,"f":14.5,"p":6.0e-12},{"c":14,"f":15,"p":7.5e-12},{"c":14,"f":15.5,"p":8.5e-12},{"c":14,"f":16,"p":8.0e-12},{"c":14,"f":16.5,"p":5.8e-12},{"c":14,"f":17,"p":4.2e-12},{"c":14,"f":18,"p":2.7e-12},{"c":14,"f":19,"p":2.7e-12},{"c":14,"f":20,"p":1.85e-12},{"c":14,"f":21,"p":2.0e-12},{"c":14,"f":22,"p":1.45e-12},{"c":14,"f":23,"p":1.65e-12},{"c":14,"f":24,"p":1.1e-12},{"c":14,"f":25,"p":1.05e-12},{"c":14,"f":26,"p":8.0e-13},{"c":14,"f":27,"p":9.0e-13},{"c":14,"f":28,"p":7.0e-13},{"c":14,"f":29,"p":9.0e-13},{"c":14,"f":29.5,"p":9.0e-13},{"c":14,"f":30,"p":1.05e-12},{"c":14,"f":30.5,"p":9.0e-13},{"c":14,"f":31,"p":6.5e-13},{"c":14,"f":31.5,"p":5.2e-13},{"c":14,"f":32,"p":4.3e-13},{"c":14,"f":32.5,"p":3.4e-13},{"c":14,"f":33,"p":2.7e-13},{"c":14,"f":33.5,"p":1.8e-13},{"c":14,"f":34,"p":1.1e-13},{"c":14,"f":34.5,"p":6.2e-14},{"c":14,"f":35,"p":3.5e-14},{"c":14,"f":35.5,"p":1.79e-14},{"c":14,"f":36,"p":8.6e-15},{"c":14,"f":36.5,"p":3.7e-15},{"c":14,"f":37,"p":1.83e-15},{"c":14,"f":37.5,"p":1.59e-15},{"c":14,"f":38,"p":1.51e-15},{"c":14,"f":40,"p":1.35e-15},{"c":14,"f":43,"p":1.18e-15},{"c":14,"f":46,"p":1.03e-15},{"c":14,"f":49.5,"p":8.7e-16},
{"c":15,"f":1,"p":7.7e-10},{"c":15,"f":1.5,"p":4.2e-10},{"c":15,"f":2,"p":2.4e-10},{"c":15,"f":2.5,"p":1.65e-10},{"c":15,"f":3,"p":1.12e-10},{"c":15,"f":3.5,"p":8.2e-11},{"c":15,"f":4,"p":6.2e-11},{"c":15,"f":4.5,"p":4.7e-11},{"c":15,"f":5,"p":3.7e-11},{"c":15,"f":5.5,"p":3.3e-11},{"c":15,"f":6,"p":3.1e-11},{"c":15,"f":6.5,"p":4.8e-11},{"c":15,"f":7,"p":7.4e-11},{"c":15,"f":7.5,"p":8.6e-11},{"c":15,"f":8,"p":7.0e-11},{"c":15,"f":8.5,"p":3.6e-11},{"c":15,"f":9,"p":2.0e-11},{"c":15,"f":9.5,"p":1.4e-11},{"c":15,"f":10,"p":1.05e-11},{"c":15,"f":10.5,"p":8.5e-12},{"c":15,"f":11,"p":7.2e-12},{"c":15,"f":11.5,"p":6.3e-12},{"c":15,"f":12,"p":5.6e-12},{"c":15,"f":12.5,"p":5.2e-12},{"c":15,"f":13,"p":4.9e-12},{"c":15,"f":13.5,"p":5.0e-12},{"c":15,"f":14,"p":5.6e-12},{"c":15,"f":14.5,"p":6.8e-12},{"c":15,"f":15,"p":8.2e-12},{"c":15,"f":15.5,"p":9.0e-12},{"c":15,"f":16,"p":8.5e-12},{"c":15,"f":16.5,"p":6.8e-12},{"c":15,"f":17,"p":5.0e-12},{"c":15,"f":18,"p":3.4e-12},{"c":15,"f":19,"p":3.2e-12},{"c":15,"f":20,"p":2.4e-12},{"c":15,"f":21,"p":2.5e-12},{"c":15,"f":22,"p":1.85e-12},{"c":15,"f":23,"p":2.0e-12},{"c":15,"f":24,"p":1.45e-12},{"c":15,"f":25,"p":1.4e-12},{"c":15,"f":26,"p":1.1e-12},{"c":15,"f":27,"p":1.2e-12},{"c":15,"f":28,"p":9.5e-13},{"c":15,"f":29,"p":1.15e-12},{"c":15,"f":29.5,"p":1.15e-12},{"c":15,"f":30,"p":1.3e-12},{"c":15,"f":30.5,"p":1.15e-12},{"c":15,"f":31,"p":8.0e-13},{"c":15,"f":31.5,"p":6.2e-13},{"c":15,"f":32,"p":5.0e-13},{"c":15,"f":32.5,"p":4.0e-13},{"c":15,"f":33,"p":3.1e-13},{"c":15,"f":33.5,"p":2.0e-13},{"c":15,"f":34,"p":1.2e-13},{"c":15,"f":34.5,"p":6.5e-14},{"c":15,"f":35,"p":3.0e-14},{"c":15,"f":35.5,"p":1.39e-14},{"c":15,"f":36,"p":5.6e-15},{"c":15,"f":36.5,"p":2.0e-15},{"c":15,"f":37,"p":8.8e-16},{"c":15,"f":37.5,"p":7.7e-16},{"c":15,"f":38,"p":7.3e-16},{"c":15,"f":40,"p":6.5e-16},{"c":15,"f":43,"p":5.7e-16},{"c":15,"f":46,"p":5.0e-16},{"c":15,"f":49.5,"p":4.2e-16},
{"c":16,"f":1,"p":6.2e-10},{"c":16,"f":1.5,"p":3.0e-10},{"c":16,"f":2,"p":1.6e-10},{"c":16,"f":2.5,"p":1.0e-10},{"c":16,"f":3,"p":7.0e-11},{"c":16,"f":3.5,"p":5.4e-11},{"c":16,"f":4,"p":4.3e-11},{"c":16,"f":4.5,"p":3.3e-11},{"c":16,"f":5,"p":2.7e-11},{"c":16,"f":5.5,"p":2.4e-11},{"c":16,"f":6,"p":2.4e-11},{"c":16,"f":6.5,"p":3.6e-11},{"c":16,"f":7,"p":5.8e-11},{"c":16,"f":7.5,"p":7.0e-11},{"c":16,"f":8,"p":5.8e-11},{"c":16,"f":8.5,"p":2.9e-11},{"c":16,"f":9,"p":1.5e-11},{"c":16,"f":9.5,"p":9.5e-12},{"c":16,"f":10,"p":7.0e-12},{"c":16,"f":10.5,"p":5.7e-12},{"c":16,"f":11,"p":4.8e-12},{"c":16,"f":11.5,"p":4.2e-12},{"c":16,"f":12,"p":3.7e-12},{"c":16,"f":12.5,"p":3.5e-12},{"c":16,"f":13,"p":3.2e-12},{"c":16,"f":13.5,"p":3.4e-12},{"c":16,"f":14,"p":4.0e-12},{"c":16,"f":14.5,"p":5.0e-12},{"c":16,"f":15,"p":6.2e-12},{"c":16,"f":15.5,"p":7.0e-12},{"c":16,"f":16,"p":6.5e-12},{"c":16,"f":16.5,"p":4.6e-12},{"c":16,"f":17,"p":3.0e-12},{"c":16,"f":18,"p":2.3e-12},{"c":16,"f":19,"p":1.7e-12},{"c":16,"f":20,"p":1.65e-12},{"c":16,"f":21,"p":1.3e-12},{"c":16,"f":22,"p":1.3e-12},{"c":16,"f":23,"p":1.0e-12},{"c":16,"f":24,"p":9.5e-13},{"c":16,"f":25,"p":7.2e-13},{"c":16,"f":26,"p":7.5e-13},{"c":16,"f":27,"p":6.2e-13},{"c":16,"f":28,"p":6.5e-13},{"c":16,"f":29,"p":6.5e-13},{"c":16,"f":29.5,"p":8.0e-13},{"c":16,"f":30,"p":8.5e-13},{"c":16,"f":30.5,"p":7.8e-13},{"c":16,"f":31,"p":5.5e-13},{"c":16,"f":31.5,"p":4.4e-13},{"c":16,"f":32,"p":3.6e-13},{"c":16,"f":32.5,"p":2.9e-13},{"c":16,"f":33,"p":2.3e-13},{"c":16,"f":33.5,"p":1.5e-13},{"c":16,"f":34,"p":9.2e-14},{"c":16,"f":34.5,"p":5.3e-14},{"c":16,"f":35,"p":3.4e-14},{"c":16,"f":35.5,"p":1.69e-14},{"c":16,"f":36,"p":7.8e-15},{"c":16,"f":36.5,"p":3.26e-15},{"c":16,"f":37,"p":1.55e-15},{"c":16,"f":37.5,"p":1.35e-15},{"c":16,"f":38,"p":1.29e-15},{"c":16,"f":40,"p":1.15e-15},{"c":16,"f":43,"p":1.0e-15},{"c":16,"f":46,"p":8.7e-16},{"c":16,"f":49.5,"p":7.4e-16},
{"c":17,"f":1,"p":6.8e-10},{"c":17,"f":1.5,"p":3.6e-10},{"c":17,"f":2,"p":2.0e-10},{"c":17,"f":2.5,"p":1.3e-10},{"c":17,"f":3,"p":9.0e-11},{"c":17,"f":3.5,"p":6.6e-11},{"c":17,"f":4,"p":5.0e-11},{"c":17,"f":4.5,"p":3.8e-11},{"c":17,"f":5,"p":3.1e-11},{"c":17,"f":5.5,"p":2.8e-11},{"c":17,"f":6,"p":2.6e-11},{"c":17,"f":6.5,"p":4.0e-11},{"c":17,"f":7,"p":6.5e-11},{"c":17,"f":7.5,"p":8.0e-11},{"c":17,"f":8,"p":6.5e-11},{"c":17,"f":8.5,"p":3.2e-11},{"c":17,"f":9,"p":1.7e-11},{"c":17,"f":9.5,"p":1.1e-11},{"c":17,"f":10,"p":8.0e-12},{"c":17,"f":10.5,"p":6.5e-12},{"c":17,"f":11,"p":5.5e-12},{"c":17,"f":11.5,"p":4.8e-12},{"c":17,"f":12,"p":4.2e-12},{"c":17,"f":12.5,"p":3.9e-12},{"c":17,"f":13,"p":3.7e-12},{"c":17,"f":13.5,"p":3.9e-12},{"c":17,"f":14,"p":4.5e-12},{"c":17,"f":14.5,"p":5.6e-12},{"c":17,"f":15,"p":7.0e-12},{"c":17,"f":15.5,"p":7.8e-12},{"c":17,"f":16,"p":7.2e-12},{"c":17,"f":16.5,"p":5.2e-12},{"c":17,"f":17,"p":3.8e-12},{"c":17,"f":18,"p":2.8e-12},{"c":17,"f":19,"p":2.0e-12},{"c":17,"f":20,"p":2.0e-12},{"c":17,"f":21,"p":1.5e-12},{"c":17,"f":22,"p":1.5e-12},{"c":17,"f":23,"p":1.15e-12},{"c":17,"f":24,"p":1.2e-12},{"c":17,"f":25,"p":8.2e-13},{"c":17,"f":26,"p":8.8e-13},{"c":17,"f":27,"p":6.8e-13},{"c":17,"f":28,"p":7.5e-13},{"c":17,"f":29,"p":7.5e-13},{"c":17,"f":29.5,"p":8.8e-13},{"c":17,"f":30,"p":9.0e-13},{"c":17,"f":30.5,"p":8.2e-13},{"c":17,"f":31,"p":5.8e-13},{"c":17,"f":31.5,"p":4.6e-13},{"c":17,"f":32,"p":3.7e-13},{"c":17,"f":32.5,"p":2.9e-13},{"c":17,"f":33,"p":2.3e-13},{"c":17,"f":33.5,"p":1.5e-13},{"c":17,"f":34,"p":8.8e-14},{"c":17,"f":34.5,"p":4.9e-14},{"c":17,"f":35,"p":3.0e-14},{"c":17,"f":35.5,"p":1.38e-14},{"c":17,"f":36,"p":5.5e-15},{"c":17,"f":36.5,"p":2.0e-15},{"c":17,"f":37,"p":8.6e-16},{"c":17,"f":37.5,"p":7.5e-16},{"c":17,"f":38,"p":7.1e-16},{"c":17,"f":40,"p":6.4e-16},{"c":17,"f":43,"p":5.6e-16},{"c":17,"f":46,"p":4.8e-16},{"c":17,"f":49.5,"p":4.1e-16},
{"c":18,"f":1,"p":6.0e-10},{"c":18,"f":1.5,"p":3.0e-10},{"c":18,"f":2,"p":1.75e-10},{"c":18,"f":2.5,"p":1.15e-10},{"c":18,"f":3,"p":8.0e-11},{"c":18,"f":3.5,"p":6.0e-11},{"c":18,"f":4,"p":4.5e-11},{"c":18,"f":4.5,"p":3.4e-11},{"c":18,"f":5,"p":2.8e-11},{"c":18,"f":5.5,"p":2.5e-11},{"c":18,"f":6,"p":2.4e-11},{"c":18,"f":6.5,"p":3.8e-11},{"c":18,"f":7,"p":6.0e-11},{"c":18,"f":7.5,"p":7.5e-11},{"c":18,"f":8,"p":6.2e-11},{"c":18,"f":8.5,"p":3.0e-11},{"c":18,"f":9,"p":1.55e-11},{"c":18,"f":9.5,"p":1.0e-11},{"c":18,"f":10,"p":7.6e-12},{"c":18,"f":10.5,"p":6.2e-12},{"c":18,"f":11,"p":5.3e-12},{"c":18,"f":11.5,"p":4.6e-12},{"c":18,"f":12,"p":4.1e-12},{"c":18,"f":12.5,"p":3.8e-12},{"c":18,"f":13,"p":3.6e-12},{"c":18,"f":13.5,"p":3.8e-12},{"c":18,"f":14,"p":4.4e-12},{"c":18,"f":14.5,"p":5.5e-12},{"c":18,"f":15,"p":6.8e-12},{"c":18,"f":15.5,"p":7.5e-12},{"c":18,"f":16,"p":7.0e-12},{"c":18,"f":16.5,"p":5.0e-12},{"c":18,"f":17,"p":3.6e-12},{"c":18,"f":18,"p":2.4e-12},{"c":18,"f":19,"p":2.35e-12},{"c":18,"f":20,"p":1.65e-12},{"c":18,"f":21,"p":1.85e-12},{"c":18,"f":22,"p":1.3e-12},{"c":18,"f":23,"p":1.45e-12},{"c":18,"f":24,"p":1.0e-12},{"c":18,"f":25,"p":9.5e-13},{"c":18,"f":26,"p":7.8e-13},{"c":18,"f":27,"p":8.2e-13},{"c":18,"f":28,"p":6.6e-13},{"c":18,"f":29,"p":8.5e-13},{"c":18,"f":29.5,"p":8.5e-13},{"c":18,"f":30,"p":1.0e-12},{"c":18,"f":30.5,"p":8.5e-13},{"c":18,"f":31,"p":6.0e-13},{"c":18,"f":31.5,"p":4.9e-13},{"c":18,"f":32,"p":4.0e-13},{"c":18,"f":32.5,"p":3.2e-13},{"c":18,"f":33,"p":2.6e-13},{"c":18,"f":33.5,"p":1.7e-13},{"c":18,"f":34,"p":1.02e-13},{"c":18,"f":34.5,"p":5.8e-14},{"c":18,"f":35,"p":3.45e-14},{"c":18,"f":35.5,"p":1.75e-14},{"c":18,"f":36,"p":8.3e-15},{"c":18,"f":36.5,"p":3.5e-15},{"c":18,"f":37,"p":1.7e-15},{"c":18,"f":37.5,"p":1.48e-15},{"c":18,"f":38,"p":1.41e-15},{"c":18,"f":40,"p":1.26e-15},{"c":18,"f":43,"p":1.1e-15},{"c":18,"f":46,"p":9.6e-16},{"c":18,"f":49.5,"p":8.1e-16},
{"c":19,"f":1,"p":6.2e-10},{"c":19,"f":1.5,"p":3.3e-10},{"c":19,"f":2,"p":1.9e-10},{"c":19,"f":2.5,"p":1.25e-10},{"c":19,"f":3,"p":8.8e-11},{"c":19,"f":3.5,"p":6.5e-11},{"c":19,"f":4,"p":5.0e-11},{"c":19,"f":4.5,"p":3.7e-11},{"c":19,"f":5,"p":2.9e-11},{"c":19,"f":5.5,"p":2.6e-11},{"c":19,"f":6,"p":2.6e-11},{"c":19,"f":6.5,"p":4.5e-11},{"c":19,"f":7,"p":7.8e-11},{"c":19,"f":7.5,"p":9.5e-11},{"c":19,"f":8,"p":8.2e-11},{"c":19,"f":8.5,"p":3.8e-11},{"c":19,"f":9,"p":1.8e-11},{"c":19,"f":9.5,"p":1.15e-11},{"c":19,"f":10,"p":8.6e-12},{"c":19,"f":10.5,"p":7.0e-12},{"c":19,"f":11,"p":5.9e-12},{"c":19,"f":11.5,"p":5.2e-12},{"c":19,"f":12,"p":4.6e-12},{"c":19,"f":12.5,"p":4.3e-12},{"c":19,"f":13,"p":4.0e-12},{"c":19,"f":13.5,"p":4.3e-12},{"c":19,"f":14,"p":5.1e-12},{"c":19,"f":14.5,"p":6.5e-12},{"c":19,"f":15,"p":8.5e-12},{"c":19,"f":15.5,"p":9.8e-12},{"c":19,"f":16,"p":9.2e-12},{"c":19,"f":16.5,"p":6.2e-12},{"c":19,"f":17,"p":4.1e-12},{"c":19,"f":18,"p":3.1e-12},{"c":19,"f":19,"p":2.2e-12},{"c":19,"f":20,"p":2.2e-12},{"c":19,"f":21,"p":1.7e-12},{"c":19,"f":22,"p":1.75e-12},{"c":19,"f":23,"p":1.3e-12},{"c":19,"f":24,"p":1.3e-12},{"c":19,"f":25,"p":9.2e-13},{"c":19,"f":26,"p":1.0e-12},{"c":19,"f":27,"p":7.8e-13},{"c":19,"f":28,"p":8.5e-13},{"c":19,"f":29,"p":8.2e-13},{"c":19,"f":29.5,"p":1.05e-12},{"c":19,"f":30,"p":1.0e-12},{"c":19,"f":30.5,"p":9.5e-13},{"c":19,"f":31,"p":6.8e-13},{"c":19,"f":31.5,"p":5.5e-13},{"c":19,"f":32,"p":4.4e-13},{"c":19,"f":32.5,"p":3.5e-13},{"c":19,"f":33,"p":2.8e-13},{"c":19,"f":33.5,"p":1.8e-13},{"c":19,"f":34,"p":1.08e-13},{"c":19,"f":34.5,"p":6.1e-14},{"c":19,"f":35,"p":3.1e-14},{"c":19,"f":35.5,"p":1.46e-14},{"c":19,"f":36,"p":6.0e-15},{"c":19,"f":36.5,"p":2.26e-15},{"c":19,"f":37,"p":1.0e-15},{"c":19,"f":37.5,"p":8.8e-16},{"c":19,"f":38,"p":8.4e-16},{"c":19,"f":40,"p":7.5e-16},{"c":19,"f":43,"p":6.5e-16},{"c":19,"f":46,"p":5.7e-16},{"c":19,"f":49.5,"p":4.8e-16}
]},
"layer":[
{"mark":{"type":"line","strokeWidth":1.5,"strokeJoin":"round","clip":true},
"encoding":{
"x":{"field":"f","type":"quantitative","scale":{"domain":[-1.42,51.29],"nice":false,"zero":false},"axis":{"values":[0,10,20,30,40,50],"labelAngle":0,"labelFlush":false,"title":"Frequency (Hz)","titlePadding":5}},
"y":{"field":"p","type":"quantitative","scale":{"type":"log","domain":[1.36e-16,7.13e-9],"nice":false},"axis":{"orient":"left","values":[1e-15,1e-14,1e-13,1e-12,1e-11,1e-10,1e-9],"labelExpr":"datum.value > 5e-10 ? '10⁻⁹' : datum.value > 5e-11 ? '10⁻¹⁰' : datum.value > 5e-12 ? '10⁻¹¹' : datum.value > 5e-13 ? '10⁻¹²' : datum.value > 5e-14 ? '10⁻¹³' : datum.value > 5e-15 ? '10⁻¹⁴' : '10⁻¹⁵'","title":"Power Spectral Density (µV²/Hz)","titlePadding":9}},
"color":{"field":"c","type":"nominal","scale":{"domain":[1,2,3,4,5,6,7,8,9,10,11,12,13,14,15,16,17,18,19],"range":["#1f77b4","#ff7f0e","#2ca02c","#d62728","#9467bd","#8c564b","#e377c2","#7f7f7f","#bcbd22","#17becf","#1f77b4","#ff7f0e","#2ca02c","#d62728","#9467bd","#8c564b","#e377c2","#7f7f7f","#bcbd22"]},"legend":null}
}},
{"mark":{"type":"point","opacity":0},
"encoding":{
"x":{"field":"f","type":"quantitative"},
"y":{"field":"p","type":"quantitative","axis":{"orient":"left","values":[2e-16,3e-16,4e-16,5e-16,6e-16,7e-16,8e-16,9e-16,2e-15,3e-15,4e-15,5e-15,6e-15,7e-15,8e-15,9e-15,2e-14,3e-14,4e-14,5e-14,6e-14,7e-14,8e-14,9e-14,2e-13,3e-13,4e-13,5e-13,6e-13,7e-13,8e-13,9e-13,2e-12,3e-12,4e-12,5e-12,6e-12,7e-12,8e-12,9e-12,2e-11,3e-11,4e-11,5e-11,6e-11,7e-11,8e-11,9e-11,2e-10,3e-10,4e-10,5e-10,6e-10,7e-10,8e-10,9e-10,2e-9,3e-9,4e-9,5e-9,6e-9,7e-9],"labels":false,"domain":false,"tickSize":2,"tickWidth":0.6,"title":null}}
}}
],
"resolve":{"axis":{"y":"independent"}}
}
